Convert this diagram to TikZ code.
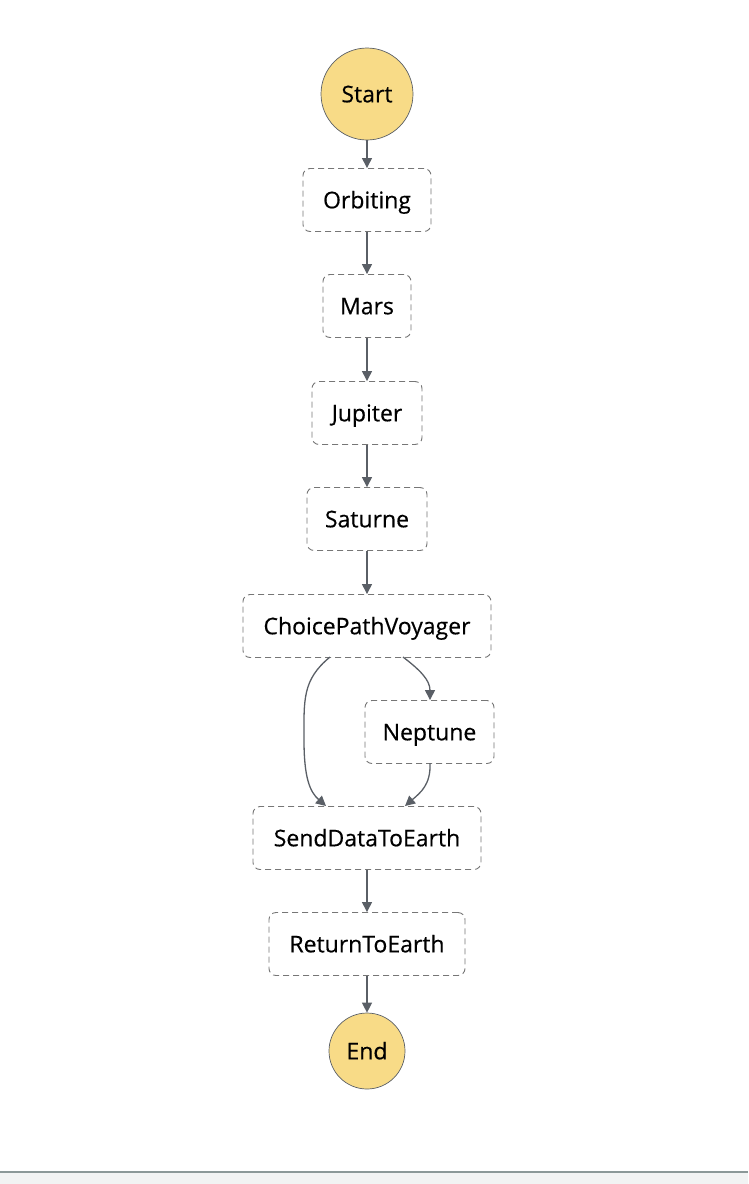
\documentclass[tikz,border=0pt]{standalone}
\usepackage{fontspec}
\setmainfont{Open Sans}[FakeBold=0.4]
\usetikzlibrary{arrows.meta}
\definecolor{startfill}{HTML}{F8DB87}
\definecolor{edgec}{HTML}{5A5F66}
\definecolor{boxc}{HTML}{767676}
\definecolor{barline}{HTML}{8C9898}
\definecolor{barfill}{HTML}{F2F3F3}
\tikzset{
  statebox/.style={draw=boxc, line width=0.9pt, dash pattern=on 6pt off 4pt, rounded corners=7pt, fill=white, minimum height=63pt, inner xsep=0pt, text height=20pt, text depth=3.4pt, font=\fontsize{23}{26}\selectfont},
  term/.style={circle, draw=edgec, line width=0.7pt, fill=startfill, inner sep=0pt, text height=20pt, text depth=3.4pt, font=\fontsize{23}{26}\selectfont},
  conn/.style={draw=edgec, line width=1.3pt, -{Triangle[length=10pt,width=10pt]}},
}
\begin{document}
\begin{tikzpicture}[x=1pt,y=-1pt]
\useasboundingbox (0,0) rectangle (748,1184);
\fill[barfill] (0,1172) rectangle (748,1184);
\draw[barline, line width=2pt] (0,1172) -- (748,1172);
\node[term, minimum size=92pt] (start) at (367,94) {Start};
\node[statebox, minimum width=128pt] (orb) at (367,200) {Orbiting};
\node[statebox, minimum width=88pt] (mars) at (367,306) {Mars};
\node[statebox, minimum width=110pt] (jup) at (367,413) {Jupiter};
\node[statebox, minimum width=120pt] (sat) at (367,519) {Saturne};
\node[statebox, minimum width=248pt] (choice) at (367,626) {ChoicePathVoyager};
\node[statebox, minimum width=129pt] (nep) at (429.5,732) {Neptune};
\node[statebox, minimum width=228pt] (send) at (367,838) {SendDataToEarth};
\node[statebox, minimum width=196pt] (ret) at (367,944) {ReturnToEarth};
\node[term, minimum size=76pt] (end) at (367,1051) {End};
\draw[conn] (start.south) -- (orb.north);
\draw[conn] (orb.south) -- (mars.north);
\draw[conn] (mars.south) -- (jup.north);
\draw[conn] (jup.south) -- (sat.north);
\draw[conn] (sat.south) -- (choice.north);
\coordinate (c1) at (330,657);
\coordinate (c2) at (403,657);
\coordinate (s1) at (326,806);
\coordinate (s2) at (405,806);
\coordinate (n1) at (430,763);
\draw[conn] (c1) .. controls (302,680) and (304,700) .. (304,740) .. controls (304,778) and (310,792) .. (s1);
\draw[conn] (c2) .. controls (420,670) and (430,680) .. (nep.north -| n1);
\draw[conn] (n1) .. controls (431,785) and (420,793) .. (s2);
\draw[conn] (send.south) -- (ret.north);
\draw[conn] (ret.south) -- (end.north);
\end{tikzpicture}
\end{document}
